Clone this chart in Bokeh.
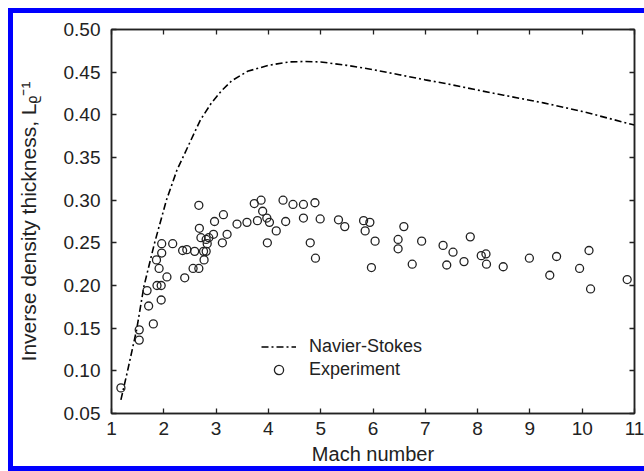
from bokeh.plotting import figure
from bokeh.models import (Range1d, LinearAxis, FixedTicker, Legend, LegendItem,
                          CustomJSTickFormatter, NumeralTickFormatter)
from bokeh.embed import file_html
from bokeh.resources import INLINE

# Navier-Stokes curve
ns_mach = [1.18, 1.30, 1.48, 1.62, 1.82, 2.05, 2.25, 2.44, 2.70, 2.90, 3.10, 3.30,
           3.60, 4.00, 4.40, 4.70, 5.00, 5.50, 6.00, 6.50, 7.00, 7.36, 8.00, 8.50,
           9.26, 10.00, 10.50, 11.00]
ns_value = [0.066, 0.098, 0.148, 0.199, 0.249, 0.300, 0.335, 0.360, 0.394, 0.413,
            0.428, 0.440, 0.451, 0.458, 0.462, 0.4625, 0.462, 0.458, 0.453, 0.447,
            0.441, 0.437, 0.429, 0.423, 0.414, 0.404, 0.396, 0.388]

# Experiment points
exp_mach = [1.18, 1.53, 1.53, 1.68, 1.71, 1.80, 1.86, 1.87, 1.95, 1.91, 1.95, 1.96,
            1.96, 2.06, 2.17, 2.36, 2.44, 2.40, 2.56, 2.59, 2.67, 2.67, 2.68, 2.71,
            2.76, 2.77, 2.81, 2.81, 2.83, 2.86, 2.95, 2.97, 3.12, 3.14, 3.21, 3.40,
            3.59, 3.73, 3.79, 3.86, 3.89, 3.97, 4.02, 4.15, 3.98, 4.28, 4.47, 4.67,
            4.89, 4.33, 4.67, 4.99, 4.80, 4.90, 5.34, 5.46, 5.82, 5.94, 5.85, 6.04,
            5.97, 6.48, 6.48, 6.59, 6.75, 6.93, 7.34, 7.53, 7.41, 7.74, 7.86, 8.07,
            8.16, 8.17, 8.49, 8.99, 9.51, 9.38, 9.95, 10.13, 10.16, 10.86]
exp_value = [0.080, 0.148, 0.136, 0.194, 0.176, 0.155, 0.230, 0.200, 0.200, 0.220, 0.183, 0.249,
             0.238, 0.210, 0.249, 0.241, 0.242, 0.209, 0.220, 0.240, 0.220, 0.294, 0.267, 0.256,
             0.240, 0.230, 0.240, 0.254, 0.249, 0.256, 0.260, 0.275, 0.250, 0.283, 0.260, 0.272,
             0.274, 0.296, 0.276, 0.300, 0.287, 0.279, 0.274, 0.264, 0.250, 0.300, 0.295, 0.295,
             0.297, 0.275, 0.279, 0.278, 0.250, 0.232, 0.277, 0.269, 0.276, 0.274, 0.264, 0.252,
             0.221, 0.254, 0.243, 0.269, 0.225, 0.252, 0.247, 0.239, 0.224, 0.228, 0.257, 0.235,
             0.237, 0.225, 0.222, 0.232, 0.234, 0.212, 0.220, 0.241, 0.196, 0.207]

x_ticks = [1, 2, 3, 4, 5, 6, 7, 8, 9, 10, 11]
y_ticks = [0.05, 0.10, 0.15, 0.20, 0.25, 0.30, 0.35, 0.40, 0.45, 0.50]

FONT = "Liberation Sans"
INK = "#222222"
BLUE = "5px solid #0000ff"

p = figure(width=636, height=463, output_backend="svg", toolbar_location=None,
           x_range=Range1d(1, 11), y_range=Range1d(0.05, 0.50),
           min_border_left=97, min_border_right=15, min_border_top=16, min_border_bottom=63,
           background_fill_color="white", border_fill_color="white",
           margin=(8, 0, 0, 8),
           styles={"border-top": BLUE, "border-left": BLUE, "border-bottom": BLUE,
                   "box-sizing": "border-box"})
p.grid.visible = False
p.outline_line_color = INK
p.outline_line_width = 1.5

def style_axis(ax, ticks):
    ax.ticker = FixedTicker(ticks=ticks)
    ax.major_tick_in = 5
    ax.major_tick_out = 0
    ax.minor_tick_line_color = None
    ax.axis_line_color = INK
    ax.axis_line_width = 1.5
    ax.major_tick_line_color = INK
    ax.major_tick_line_width = 1.3
    ax.major_label_text_font = FONT
    ax.major_label_text_font_size = "19px"
    ax.major_label_text_color = INK
    ax.axis_label_text_font = FONT
    ax.axis_label_text_font_size = "20px"
    ax.axis_label_text_font_style = "normal"
    ax.axis_label_text_color = INK

xa = p.xaxis[0]
ya = p.yaxis[0]
style_axis(xa, x_ticks)
style_axis(ya, y_ticks)
ya.formatter = NumeralTickFormatter(format="0.00")
xa.axis_label = "Mach number"
ya.axis_label = "Inverse density thickness, Lᵨ⁻¹"
ya.axis_label_text_font_size = "21px"
xa.major_label_standoff = 8
xa.axis_label_standoff = 5
ya.major_label_standoff = 11
ya.axis_label_standoff = 21

blank = CustomJSTickFormatter(code="return ''")
top = LinearAxis(formatter=blank)
right = LinearAxis(formatter=blank)
style_axis(top, x_ticks)
style_axis(right, y_ticks)
top.major_label_text_font_size = "1px"
right.major_label_text_font_size = "1px"
top.major_label_standoff = 0
right.major_label_standoff = 0
p.add_layout(top, "above")
p.add_layout(right, "right")

ns = p.line(ns_mach, ns_value, line_color="black", line_width=1.6, line_dash="7 3 2 3")
ex = p.scatter(exp_mach, exp_value, marker="circle", size=8, fill_color=None,
               line_color=INK, line_width=1.3)

legend = Legend(items=[LegendItem(label="Navier-Stokes", renderers=[ns]),
                       LegendItem(label="Experiment", renderers=[ex])],
                location=(150, 32), padding=0, spacing=0, margin=0,
                glyph_width=35, glyph_height=23, label_height=23, label_standoff=13,
                label_text_font=FONT, label_text_font_size="18px", label_text_color=INK,
                background_fill_alpha=0, border_line_color=None)
p.add_layout(legend, "center")

with open("out.html", "w") as f:
    f.write(file_html(p, INLINE))
